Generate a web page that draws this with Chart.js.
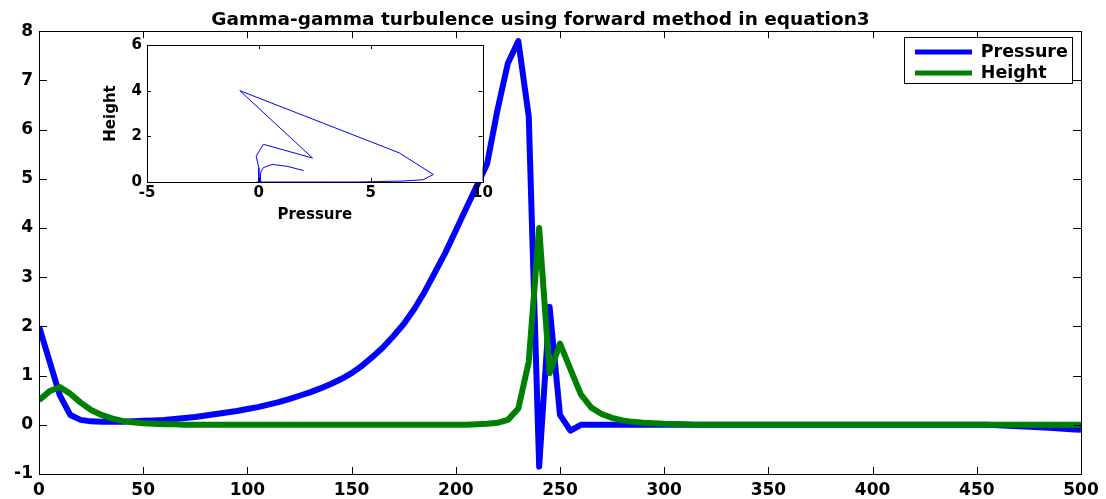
<!DOCTYPE html>
<html><head><meta charset="utf-8">
<script src="https://cdn.jsdelivr.net/npm/chart.js@4.4.0/dist/chart.umd.min.js"></script>
<style>
html,body{margin:0;padding:0;background:#fff;}
#wrap{position:relative;width:1106px;height:499px;overflow:hidden;}
#main{position:absolute;left:0;top:0;}
#inset{position:absolute;left:95px;top:30px;}
</style></head><body>
<div id="wrap">
<canvas id="main" width="1106" height="499"></canvas>
<canvas id="inset" width="420" height="200"></canvas>
</div>
<script>
// ---- data ----
const xValues = [0,5,10,15,20,25,30,35,40,45,50,55,60,65,70,75,80,85,90,95,
  100,105,110,115,120,125,130,135,140,145,150,155,160,165,170,175,180,185,190,195,
  200,205,210,215,220,225,230,235,240,245,250,255,260,265,270,275,280,285,290,295,
  300,305,310,315,320,325,330,335,340,345,350,355,360,365,370,375,380,385,390,395,
  400,405,410,415,420,425,430,435,440,445,450,455,460,465,470,475,480,485,490,495,500];
const pressure = [2.0,1.3,0.6,0.2,0.1,0.07,0.06,0.06,0.06,0.07,
  0.08,0.09,0.1,0.12,0.14,0.16,0.19,0.22,0.25,0.28,
  0.32,0.36,0.41,0.46,0.52,0.59,0.66,0.74,0.83,0.93,
  1.05,1.2,1.38,1.57,1.8,2.05,2.35,2.7,3.1,3.5,
  3.95,4.4,4.85,5.3,6.4,7.35,7.8,6.27,-0.85,2.4,
  0.2,-0.12,0,0,0,0,0,0,0,0,
  0,0,0,0,0,0,0,0,0,0,
  0,0,0,0,0,0,0,0,0,0,
  0,0,0,0,0,0,0,0,0,0,
  0,0,-0.01,-0.02,-0.03,-0.04,-0.05,-0.06,-0.075,-0.09,
  -0.1];
const height = [0.5,0.68,0.77,0.63,0.45,0.3,0.2,0.13,0.08,0.05,
  0.03,0.02,0.01,0.01,0,0,0,0,0,0,
  0,0,0,0,0,0,0,0,0,0,
  0,0,0,0,0,0,0,0,0,0,
  0,0,0.01,0.02,0.04,0.1,0.33,1.28,4.0,1.05,
  1.65,1.13,0.62,0.35,0.22,0.14,0.09,0.06,0.04,0.03,
  0.02,0.015,0.01,0,0,0,0,0,0,0,
  0,0,0,0,0,0,0,0,0,0,
  0,0,0,0,0,0,0,0,0,0,
  0,0,0,0,0,0,0,0,0,0,
  0];
const xTicks = [0,50,100,150,200,250,300,350,400,450,500];
const yTicks = [-1,0,1,2,3,4,5,6,7,8];
const insetXTicks = [-5,0,5,10];
const insetYTicks = [0,2,4,6];
const titleText = 'Gamma-gamma turbulence using forward method in equation3';

// ---- styling ----
const FAM = "'DejaVu Sans', sans-serif";
Chart.defaults.font.family = FAM;
Chart.defaults.font.weight = 'bold';
Chart.defaults.color = '#000';

function setTicks(list){ return function(scale){ scale.ticks = list.map(v => ({value: v})); }; }

function framePlugin(tickX, tickY, legendBox){
  return {
    id: 'frame',
    beforeDraw(chart){
      const a = chart.chartArea, c = chart.ctx;
      c.save(); c.fillStyle = '#fff';
      c.fillRect(a.left, a.top, a.right - a.left, a.bottom - a.top);
      c.restore();
    },
    afterLayout(chart){
      if (legendBox && chart.legend){
        const lg = chart.legend;
        lg.left = legendBox.l; lg.top = legendBox.t;
        lg.width = legendBox.w; lg.height = legendBox.h;
        lg.right = lg.left + lg.width; lg.bottom = lg.top + lg.height;
      }
    },
    afterDraw(chart){
      const a = chart.chartArea, c = chart.ctx;
      const xs = chart.scales.x, ys = chart.scales.y;
      c.save();
      c.strokeStyle = '#000'; c.lineWidth = 1;
      c.strokeRect(Math.round(a.left) + 0.5, Math.round(a.top) + 0.5,
                   Math.round(a.right - a.left), Math.round(a.bottom - a.top));
      c.beginPath();
      xs.ticks.forEach(t => {
        const p = Math.round(xs.getPixelForValue(t.value)) + 0.5;
        c.moveTo(p, a.bottom); c.lineTo(p, a.bottom - tickX);
        c.moveTo(p, a.top); c.lineTo(p, a.top + tickX);
      });
      ys.ticks.forEach(t => {
        const p = Math.round(ys.getPixelForValue(t.value)) + 0.5;
        c.moveTo(a.left, p); c.lineTo(a.left + tickY, p);
        c.moveTo(a.right, p); c.lineTo(a.right - tickY, p);
      });
      c.stroke();
      if (legendBox){
        c.strokeRect(legendBox.bx + 0.5, legendBox.by + 0.5, legendBox.bw, legendBox.bh);
      }
      c.restore();
    }
  };
}

new Chart(document.getElementById('main'), {
  type: 'line',
  data: {
    datasets: [
      {label: 'Pressure', data: xValues.map((x, i) => ({x: x, y: pressure[i]})),
       borderColor: '#0000ff', backgroundColor: '#0000ff', borderWidth: 6, pointRadius: 0,
       borderJoinStyle: 'round', borderCapStyle: 'butt', order: 1},
      {label: 'Height', data: xValues.map((x, i) => ({x: x, y: height[i]})),
       borderColor: '#008000', backgroundColor: '#008000', borderWidth: 6, pointRadius: 0,
       borderJoinStyle: 'round', borderCapStyle: 'butt', order: 0}
    ]
  },
  options: {
    responsive: false, animation: false, events: [],
    layout: {padding: {left: 0, right: 25, top: 0, bottom: 0}},
    plugins: {
      title: {display: true, text: titleText, color: '#000',
              font: {family: FAM, size: 18.5, weight: 'bold', lineHeight: 1.2},
              padding: {top: 9, bottom: 0}},
      legend: {position: 'chartArea',
               labels: {boxWidth: 57, boxHeight: 5, padding: 3.5, color: '#000',
                        font: {family: FAM, size: 17.5, weight: 'bold'},
                        generateLabels: (chart) => Chart.defaults.plugins.legend.labels.generateLabels(chart)
                          .map(l => Object.assign(l, {lineWidth: 0})),
                        sort: (a, b) => a.datasetIndex - b.datasetIndex}},
      tooltip: {enabled: false}
    },
    scales: {
      x: {type: 'linear', min: 0, max: 500, afterBuildTicks: setTicks(xTicks),
          grid: {display: false, drawTicks: false}, border: {display: false},
          ticks: {font: {family: FAM, size: 17, weight: 'bold'}, color: '#000', padding: 6, maxRotation: 0, autoSkip: false},
          afterFit(s){ s.height = 25; }},
      y: {type: 'linear', min: -1, max: 8, afterBuildTicks: setTicks(yTicks),
          grid: {display: false, drawTicks: false}, border: {display: false},
          ticks: {font: {family: FAM, size: 17, weight: 'bold'}, color: '#000', padding: 6, autoSkip: false},
          afterFit(s){ s.width = 39; }}
    }
  },
  plugins: [framePlugin(7, 8, {l: 911.5, t: 39.5, w: 160, h: 46, bx: 904, by: 37, bw: 168, bh: 46})]
});

new Chart(document.getElementById('inset'), {
  type: 'scatter',
  data: {
    datasets: [
      {label: 'Height vs Pressure', data: pressure.map((p, i) => ({x: p, y: height[i]})),
       showLine: true, borderColor: '#0000ff', borderWidth: 1, pointRadius: 0, tension: 0}
    ]
  },
  options: {
    responsive: false, animation: false, events: [],
    layout: {padding: {left: 0, right: 32.5, top: 15, bottom: 0}},
    plugins: {legend: {display: false}, title: {display: false}, tooltip: {enabled: false}},
    scales: {
      x: {type: 'linear', min: -5, max: 10, afterBuildTicks: setTicks(insetXTicks),
          grid: {display: false, drawTicks: false}, border: {display: false},
          ticks: {font: {family: FAM, size: 15, weight: 'bold'}, color: '#000', padding: 2, maxRotation: 0, autoSkip: false},
          title: {display: true, text: 'Pressure', color: '#000', font: {family: FAM, size: 15, weight: 'bold', lineHeight: 1.2}, padding: {top: 0, bottom: 6}},
          afterFit(s){ s.height = 48; }},
      y: {type: 'linear', min: 0, max: 6, afterBuildTicks: setTicks(insetYTicks),
          grid: {display: false, drawTicks: false}, border: {display: false},
          ticks: {font: {family: FAM, size: 15, weight: 'bold'}, color: '#000', padding: 5, autoSkip: false},
          title: {display: true, text: 'Height', color: '#000', font: {family: FAM, size: 15, weight: 'bold', lineHeight: 1.2}, padding: {top: 7, bottom: 0}},
          afterFit(s){ s.width = 52; }}
    }
  },
  plugins: [framePlugin(4, 4, null)]
});
</script>
</body></html>
